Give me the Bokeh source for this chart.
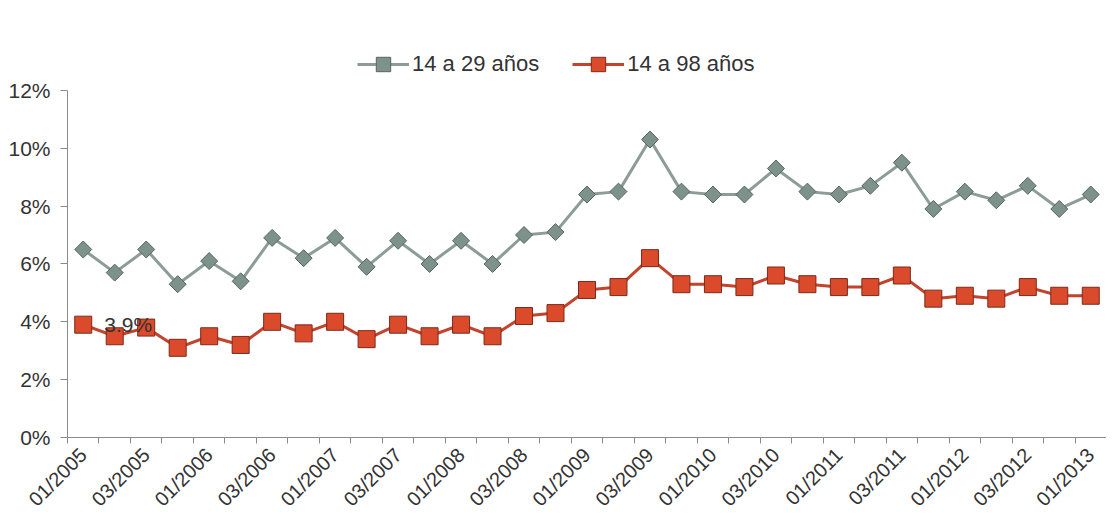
from math import pi
from bokeh.plotting import figure
from bokeh.models import Range1d, FixedTicker, PrintfTickFormatter, Legend, LegendItem
from bokeh.core.properties import value
from bokeh.embed import file_html
from bokeh.resources import INLINE

quarters = [f"{q:02d}/{y}" for y in range(2005, 2013) for q in (1, 2, 3, 4)] + ["01/2013"]
young = [6.5, 5.7, 6.5, 5.3, 6.1, 5.4, 6.9, 6.2, 6.9, 5.9, 6.8, 6.0, 6.8, 6.0, 7.0, 7.1,
         8.4, 8.5, 10.3, 8.5, 8.4, 8.4, 9.3, 8.5, 8.4, 8.7, 9.5, 7.9, 8.5, 8.2, 8.7, 7.9, 8.4]
total = [3.9, 3.5, 3.8, 3.1, 3.5, 3.2, 4.0, 3.6, 4.0, 3.4, 3.9, 3.5, 3.9, 3.5, 4.2, 4.3,
         5.1, 5.2, 6.2, 5.3, 5.3, 5.2, 5.6, 5.3, 5.2, 5.2, 5.6, 4.8, 4.9, 4.8, 5.2, 4.9, 4.9]
y_ticks = [0, 2, 4, 6, 8, 10, 12]
series_names = ["14 a 29 años", "14 a 98 años"]
first_label = "3.9%"

x = list(range(len(quarters)))
FONT = "Liberation Sans"

# frame extends above 12% to make room for the legend (axis itself bounded to 0-12%)
p = figure(width=1106, height=524, output_backend="svg", toolbar_location=None,
           x_range=Range1d(-0.5, len(quarters) - 0.5), y_range=Range1d(0, 14.07),
           min_border_left=67, min_border_right=0, min_border_top=30, min_border_bottom=87)
p.outline_line_color = None
p.xgrid.visible = False
p.ygrid.visible = False

gray_line = p.line(x, young, line_color="#8c9c96", line_width=3)
gray_mark = p.scatter(x, young, marker="square", angle=pi / 4, size=12,
                      fill_color="#7d928a", line_color="#55655f", line_width=1)
red_line = p.line(x, total, line_color="#c4432c", line_width=3)
red_mark = p.scatter(x, total, marker="square", size=17,
                     fill_color="#dc4a2c", line_color="#7a2a1a", line_width=1)

p.text(x=[x[0]], y=[total[0]], text=[first_label], x_offset=21, text_baseline="middle",
       text_font=value(FONT), text_font_size="21px", text_color="#333333")

xa = p.xaxis[0]
xa.ticker = FixedTicker(ticks=[i for i in x if i % 2 == 0],
                        minor_ticks=[i - 0.5 for i in range(len(quarters) + 1)])
xa.major_label_overrides = {i: quarters[i] for i in x if i % 2 == 0}
xa.major_label_orientation = pi / 4
xa.major_tick_in = 0
xa.major_tick_out = 0
xa.minor_tick_in = 0
xa.minor_tick_out = 6
xa.axis_line_color = "#8a8a8a"
xa.minor_tick_line_color = "#8a8a8a"
xa.major_label_text_font = FONT
xa.major_label_text_font_size = "20px"
xa.major_label_text_color = "#333333"
xa.major_label_standoff = 8

ya = p.yaxis[0]
ya.ticker = FixedTicker(ticks=y_ticks)
ya.formatter = PrintfTickFormatter(format="%d%%")
ya.bounds = (y_ticks[0], y_ticks[-1])
ya.minor_tick_line_color = None
ya.major_tick_in = 0
ya.major_tick_out = 7
ya.axis_line_color = "#8a8a8a"
ya.major_tick_line_color = "#8a8a8a"
ya.major_label_text_font = FONT
ya.major_label_text_font_size = "21px"
ya.major_label_text_color = "#333333"
ya.major_label_standoff = 10

legend = Legend(items=[LegendItem(label=series_names[0], renderers=[gray_line, gray_mark]),
                       LegendItem(label=series_names[1], renderers=[red_line, red_mark])],
                orientation="horizontal", location=(290, 355),
                label_text_font=FONT, label_text_font_size="22px", label_text_color="#333333",
                glyph_width=52, glyph_height=36, label_standoff=3, spacing=33,
                border_line_color=None, background_fill_alpha=0, padding=4, margin=0)
p.add_layout(legend, "center")

open("out.html", "w").write(file_html(p, INLINE))
